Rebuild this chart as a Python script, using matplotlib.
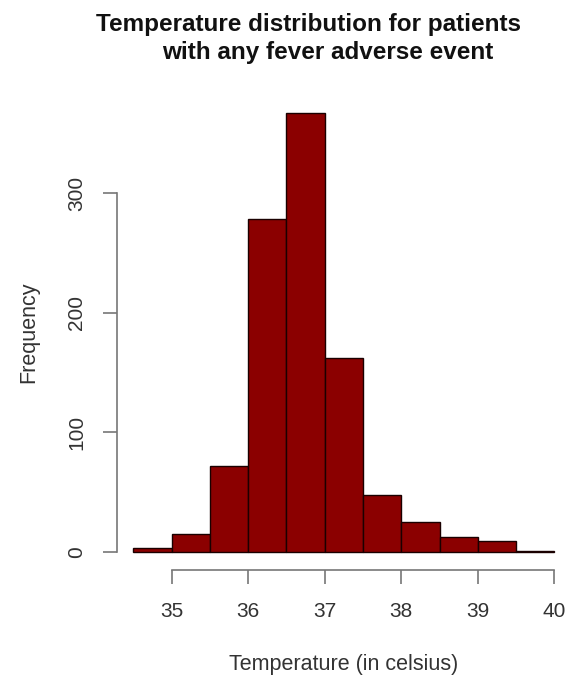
import matplotlib
matplotlib.use("Agg")
import matplotlib.pyplot as plt
import numpy as np

# histogram bins (0.5 C wide) and counts
bin_left = [34.5, 35.0, 35.5, 36.0, 36.5, 37.0, 37.5, 38.0, 38.5, 39.0, 39.5]
counts = [3, 15, 72, 278, 367, 162, 48, 25, 13, 9, 1]
x_ticks = [35, 36, 37, 38, 39, 40]
y_ticks = [0, 100, 200, 300]

plt.rcParams['font.family'] = ['Liberation Sans', 'DejaVu Sans']

fig = plt.figure(figsize=(5.77, 6.77), dpi=100)
ax = fig.add_axes([0.202, 0.1586, 0.788, 0.7004])

ax.bar(bin_left, counts, width=0.5, align='edge', color='#8b0000',
       edgecolor='#1a0000', linewidth=1.0)

# R-style axes: 4% padding, spines only over tick range
lo, hi = bin_left[0], bin_left[-1] + 0.5
pad = (hi - lo) * 0.04
ax.set_xlim(lo - pad, hi + pad)
ymax = max(counts)
ax.set_ylim(-ymax * 0.04, ymax * 1.04)

for s in ['top', 'right']:
    ax.spines[s].set_visible(False)
ax.spines['left'].set_bounds(y_ticks[0], y_ticks[-1])
ax.spines['bottom'].set_bounds(x_ticks[0], x_ticks[-1])
for s in ['left', 'bottom']:
    ax.spines[s].set_color('#777777')
    ax.spines[s].set_linewidth(1.2)

ax.set_xticks(x_ticks)
ax.set_yticks(y_ticks)
ax.set_xticklabels([str(t) for t in x_ticks])
ax.set_yticklabels([str(t) for t in y_ticks], rotation=90, va='center')
ax.tick_params(axis='both', length=10, width=1.2, color='#777777',
               labelsize=15, labelcolor='#333333')
ax.tick_params(axis='x', pad=13)
ax.tick_params(axis='y', pad=12)

ax.set_xlabel('Temperature (in celsius)', fontsize=15.5, color='#333333', labelpad=24)
ax.set_ylabel('Frequency', fontsize=15.5, color='#333333', labelpad=20)

fig.text(308 / 577, 1 - 24 / 677, 'Temperature distribution for patients',
         ha='center', va='center', fontsize=17.5, fontweight='bold', color='#111111')
fig.text(328 / 577, 1 - 52 / 677, 'with any fever adverse event',
         ha='center', va='center', fontsize=17.5, fontweight='bold', color='#111111')

fig.savefig('out.png', dpi=100)
